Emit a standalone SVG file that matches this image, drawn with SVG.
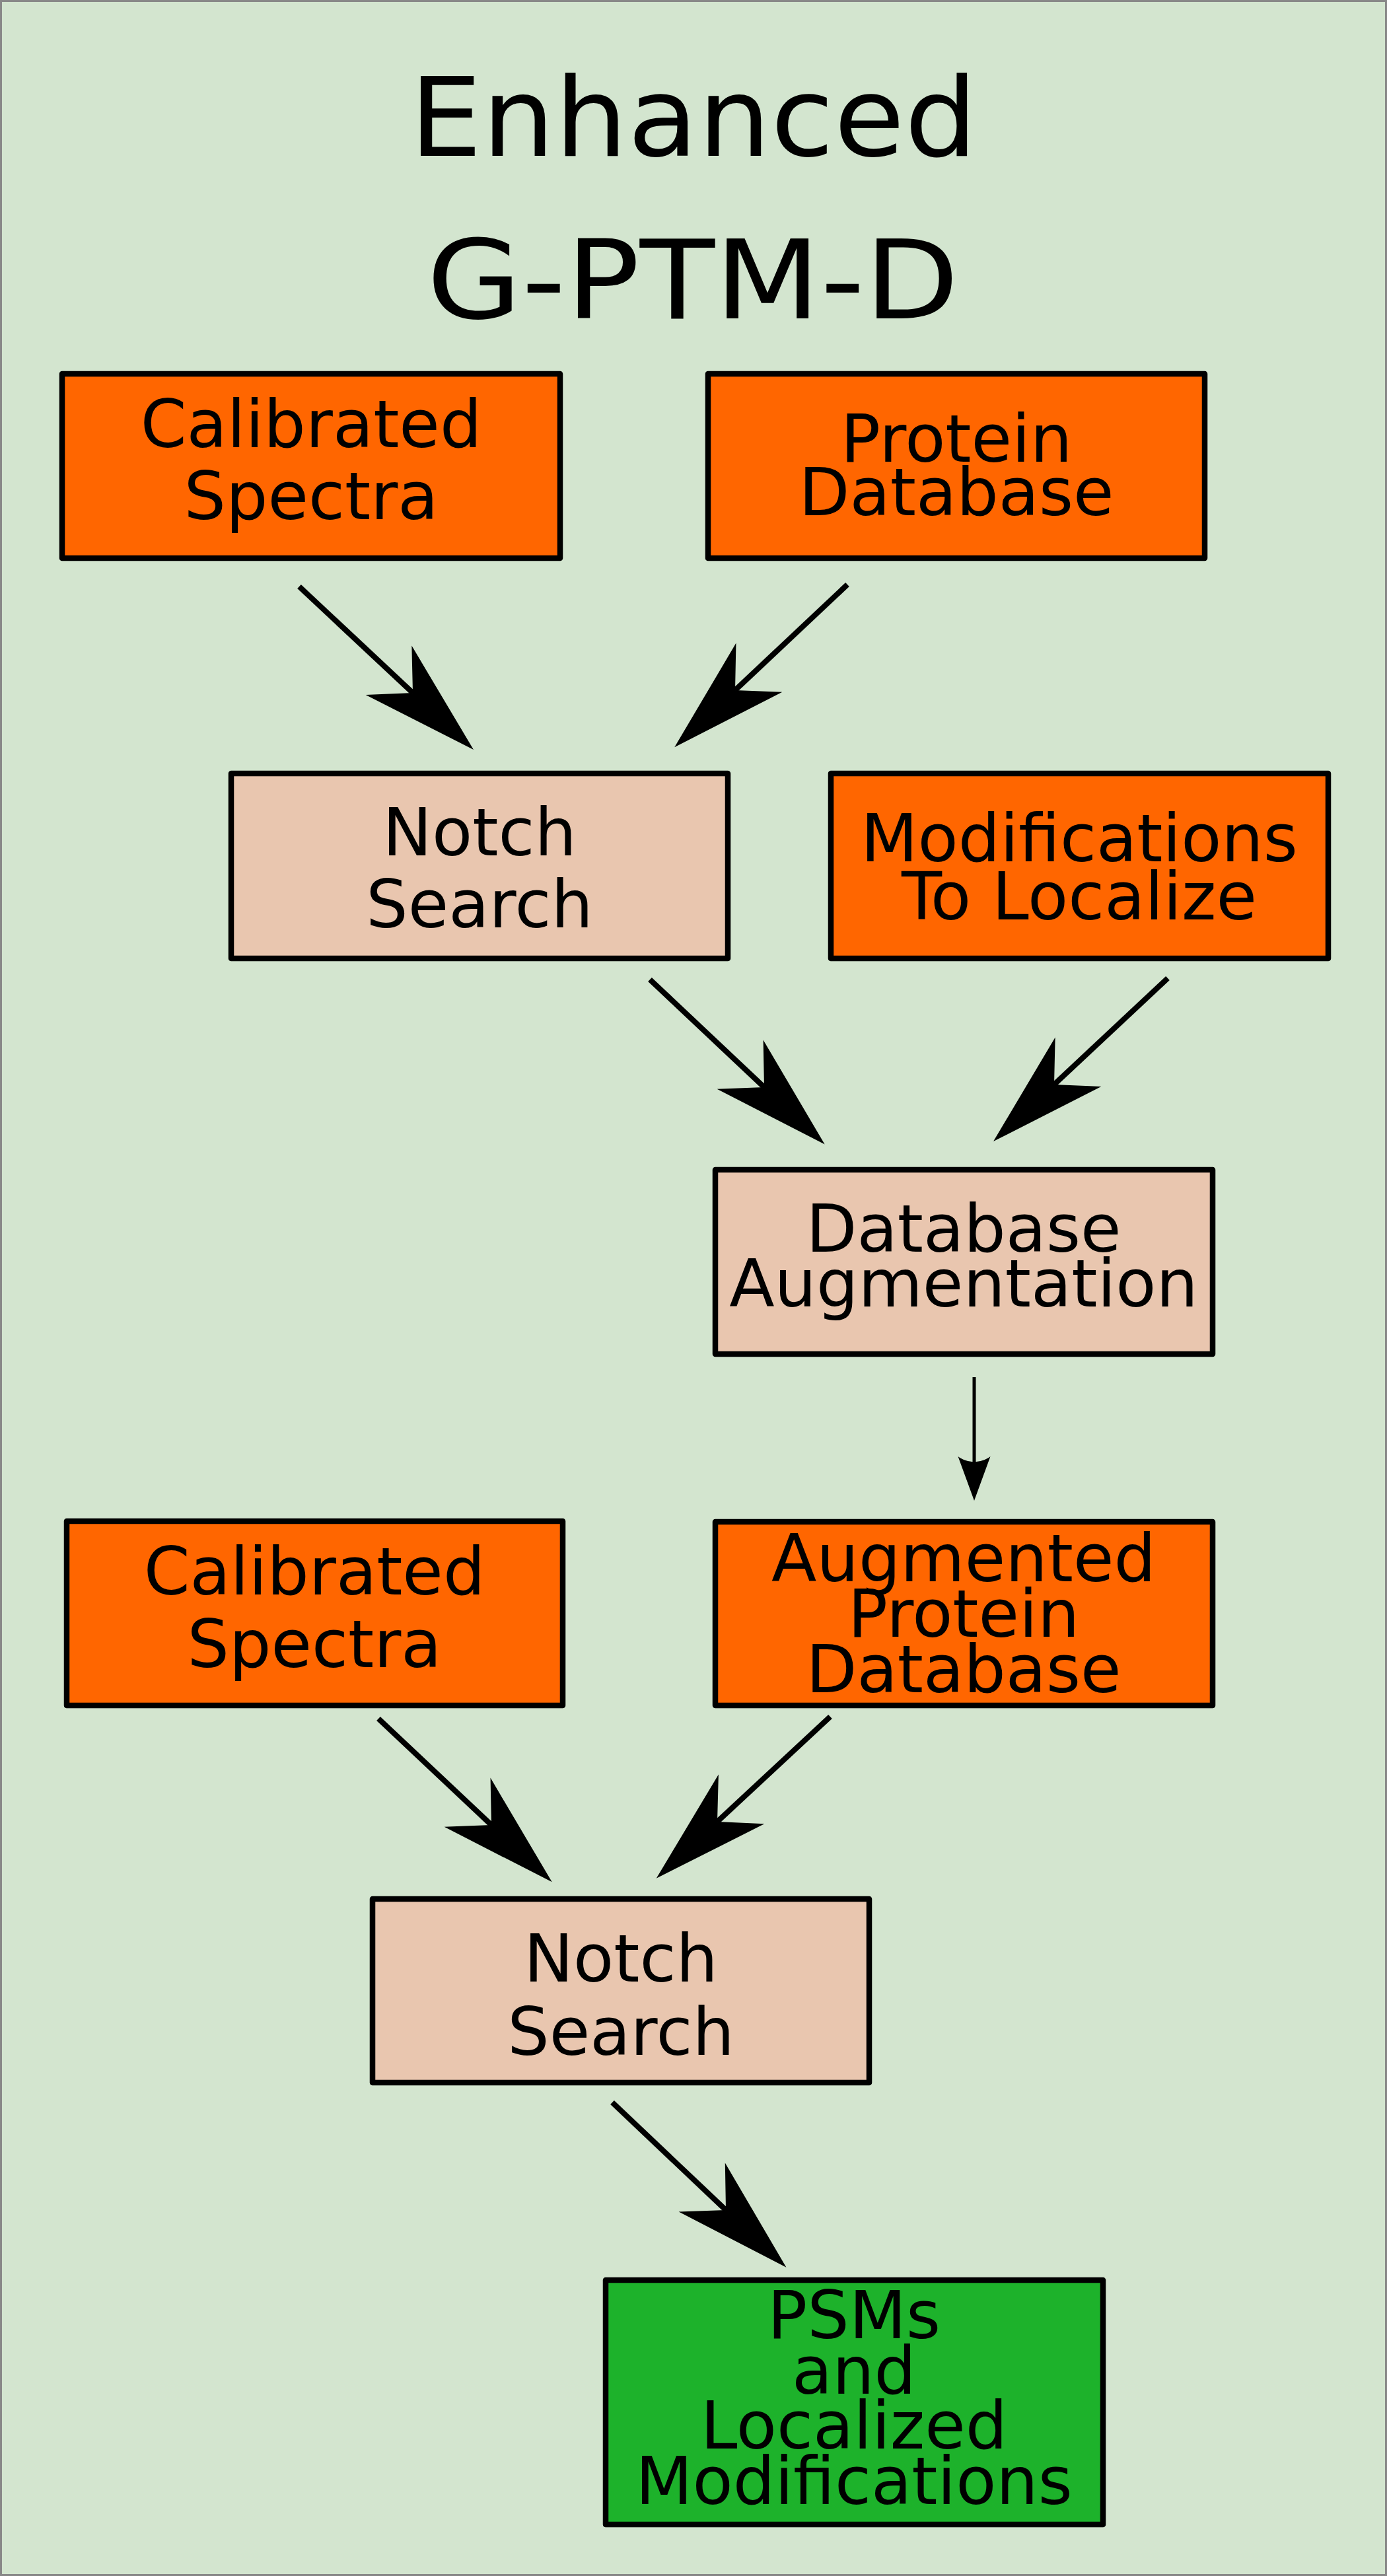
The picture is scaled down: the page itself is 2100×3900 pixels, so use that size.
<svg xmlns="http://www.w3.org/2000/svg" width="2100" height="3900" viewBox="0 0 2100 3900">
  <style>
    .box { stroke: #000; stroke-width: 8.5; stroke-linejoin: round; }
    .orange { fill: #ff6600; }
    .peach { fill: #e9c6af; }
    .green { fill: #1db22b; }
    .t { font-family: "DejaVu Sans", Verdana, sans-serif; font-size: 100px; text-anchor: middle; fill: #000; }
    .title { font-family: "DejaVu Sans", Verdana, sans-serif; font-size: 165px; text-anchor: middle; fill: #000; }
    .conn { fill: none; stroke: #000; stroke-width: 8.3; stroke-linecap: butt; }
    .conn-thin { fill: none; stroke: #000; stroke-width: 5; stroke-linecap: butt; }
  </style>
  <defs>
    <marker id="ah" markerUnits="userSpaceOnUse" orient="auto" refX="0" refY="0" markerWidth="10" markerHeight="10" style="overflow:visible">
      <path d="M0,0 L-50,-51 L126,0 L-50,51 Z" fill="#000"/>
    </marker>
    <marker id="ah2" markerUnits="userSpaceOnUse" orient="auto" refX="8" refY="0" markerWidth="10" markerHeight="10" style="overflow:visible">
      <path d="M0,-24.5 L67,0 L0,24.5 C10.7,10 10.7,-10 0,-24.5 Z" fill="#000"/>
    </marker>
  </defs>

  <rect x="1.5" y="1.5" width="2097" height="3897" fill="#d3e5cf" stroke="#888888" stroke-width="3"/>

  <g id="title">
    <text class="title" x="1050" y="236" textLength="860" lengthAdjust="spacingAndGlyphs">Enhanced</text>
    <text class="title" x="1049" y="482" textLength="806" lengthAdjust="spacingAndGlyphs">G-PTM-D</text>
  </g>

  <g id="connectors">
    <path class="conn" d="M453,888 L625,1049" marker-end="url(#ah)"/>
    <path class="conn" d="M1283,885 L1113,1045" marker-end="url(#ah)"/>
    <path class="conn" d="M984,1483 L1157,1646" marker-end="url(#ah)"/>
    <path class="conn" d="M1768,1481 L1596,1642" marker-end="url(#ah)"/>
    <path class="conn-thin" d="M1475,2085 L1475,2213" marker-end="url(#ah2)"/>
    <path class="conn" d="M573,2602 L744,2763" marker-end="url(#ah)"/>
    <path class="conn" d="M1257,2599 L1086,2758" marker-end="url(#ah)"/>
    <path class="conn" d="M927,3183 L1099,3346" marker-end="url(#ah)"/>
  </g>

  <g id="calibrated-spectra-1">
    <rect class="box orange" x="94" y="566" width="754" height="279"/>
    <text class="t" x="471" y="677">Calibrated</text>
    <text class="t" x="471" y="786">Spectra</text>
  </g>

  <g id="protein-database">
    <rect class="box orange" x="1072" y="566" width="752" height="279"/>
    <text class="t" x="1448" y="699">Protein</text>
    <text class="t" x="1448" y="780">Database</text>
  </g>

  <g id="notch-search-1">
    <rect class="box peach" x="350" y="1171" width="752" height="280"/>
    <text class="t" x="726" y="1295">Notch</text>
    <text class="t" x="726" y="1404">Search</text>
  </g>

  <g id="modifications-to-localize">
    <rect class="box orange" x="1258" y="1171" width="753" height="280"/>
    <text class="t" x="1634" y="1304">Modifications</text>
    <text class="t" x="1634" y="1392">To Localize</text>
  </g>

  <g id="database-augmentation">
    <rect class="box peach" x="1083" y="1771" width="753" height="279"/>
    <text class="t" x="1459" y="1895">Database</text>
    <text class="t" x="1459" y="1978">Augmentation</text>
  </g>

  <g id="calibrated-spectra-2">
    <rect class="box orange" x="101" y="2303" width="751" height="279"/>
    <text class="t" x="476" y="2414">Calibrated</text>
    <text class="t" x="476" y="2524">Spectra</text>
  </g>

  <g id="augmented-protein-database">
    <rect class="box orange" x="1083" y="2304" width="753" height="278"/>
    <text class="t" x="1459" y="2394">Augmented</text>
    <text class="t" x="1459" y="2478">Protein</text>
    <text class="t" x="1459" y="2562">Database</text>
  </g>

  <g id="notch-search-2">
    <rect class="box peach" x="564" y="2875" width="752" height="278"/>
    <text class="t" x="940" y="3000">Notch</text>
    <text class="t" x="940" y="3111">Search</text>
  </g>

  <g id="psms-localized-modifications">
    <rect class="box green" x="917" y="3452" width="753" height="370"/>
    <text class="t" x="1293" y="3540">PSMs</text>
    <text class="t" x="1293" y="3624">and</text>
    <text class="t" x="1293" y="3707">Localized</text>
    <text class="t" x="1293" y="3791">Modifications</text>
  </g>
</svg>
